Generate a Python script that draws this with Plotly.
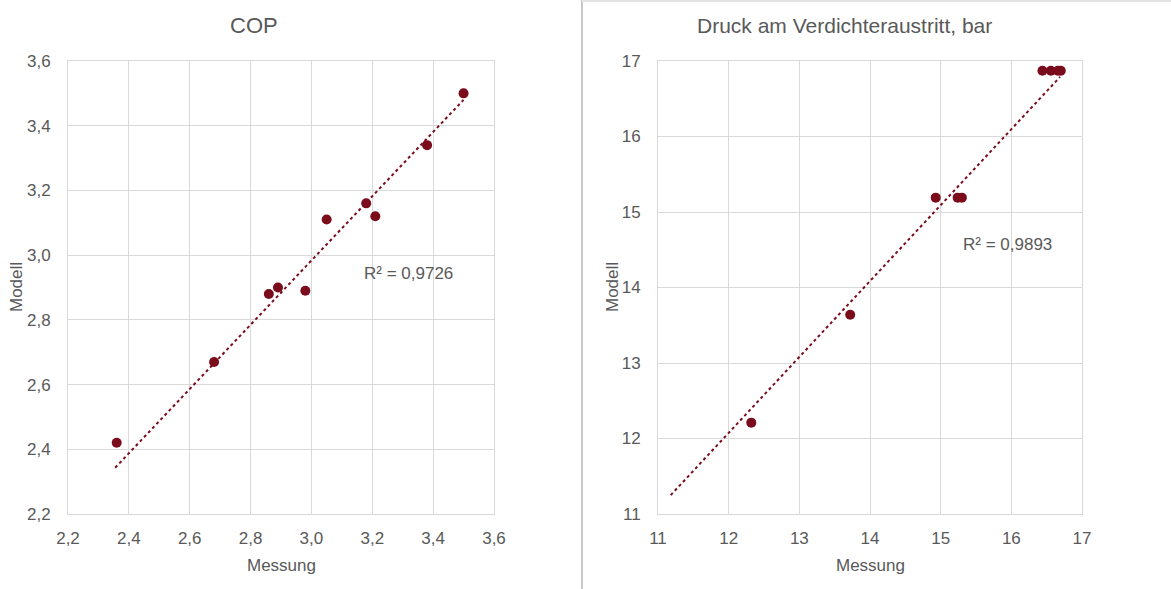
import plotly.graph_objects as go

# ---------------- data ----------------
cop_messung = [2.36, 2.68, 2.86, 2.89, 2.98, 3.05, 3.18, 3.21, 3.38, 3.50]
cop_modell = [2.42, 2.67, 2.88, 2.90, 2.89, 3.11, 3.16, 3.12, 3.34, 3.50]
cop_trend_x = [2.355, 3.50]
cop_trend_y = [2.343, 3.48]
cop_r2_label = "R² = 0,9726"

p_messung = [12.32, 13.72, 14.93, 15.24, 15.30, 16.44, 16.56, 16.66, 16.70]
p_modell = [12.21, 13.64, 15.19, 15.19, 15.19, 16.87, 16.87, 16.87, 16.87]
p_trend_x = [11.18, 16.69]
p_trend_y = [11.25, 16.79]
p_r2_label = "R² = 0,9893"

cop_ticks = [2.2, 2.4, 2.6, 2.8, 3.0, 3.2, 3.4, 3.6]
p_ticks = [11, 12, 13, 14, 15, 16, 17]

titles = ["COP", "Druck am Verdichteraustritt, bar"]
x_title = "Messung"
y_title = "Modell"

# ---------------- style ----------------
W, H = 1171, 589
RED = "#7b0c1c"
TXT = "#595959"
GRID = "#d9d9d9"
FONT = "Liberation Sans, Arial, sans-serif"

fig = go.Figure()

fig.add_trace(go.Scatter(x=cop_trend_x, y=cop_trend_y, mode="lines",
                         line=dict(color=RED, width=2, dash="dot"),
                         xaxis="x", yaxis="y", showlegend=False))
fig.add_trace(go.Scatter(x=cop_messung, y=cop_modell, mode="markers",
                         marker=dict(color=RED, size=10), xaxis="x", yaxis="y",
                         showlegend=False))
fig.add_trace(go.Scatter(x=p_trend_x, y=p_trend_y, mode="lines",
                         line=dict(color=RED, width=2, dash="dot"),
                         xaxis="x2", yaxis="y2", showlegend=False))
fig.add_trace(go.Scatter(x=p_messung, y=p_modell, mode="markers",
                         marker=dict(color=RED, size=10), xaxis="x2", yaxis="y2",
                         showlegend=False))

ydom = [1 - 514 / H, 1 - 61 / H]
common = dict(showgrid=True, gridcolor=GRID, gridwidth=1, zeroline=False,
              showline=True, linecolor=GRID, mirror=True, automargin=False,
              tickfont=dict(family=FONT, size=17, color=TXT),
              ticks="", fixedrange=True)

fig.update_layout(
    template="none",
    width=W, height=H, autosize=False,
    margin=dict(l=0, r=0, t=0, b=0, pad=0),
    paper_bgcolor="white", plot_bgcolor="white",
    separators=",.",
    font=dict(family=FONT, color=TXT),
    xaxis=dict(domain=[68 / W, 494 / W], range=[2.2, 3.6], tickvals=cop_ticks,
               tickformat=".1f", anchor="y", ticklabelstandoff=9, **common),
    yaxis=dict(domain=ydom, range=[2.2, 3.6], tickvals=cop_ticks,
               tickformat=".1f", anchor="x", ticklabelstandoff=13, **common),
    xaxis2=dict(domain=[658 / W, 1082 / W], range=[11, 17], tickvals=p_ticks,
                anchor="y2", ticklabelstandoff=9, **common),
    yaxis2=dict(domain=ydom, range=[11, 17], tickvals=p_ticks,
                anchor="x2", ticklabelstandoff=13, **common),
)

ann = []
def txt(x, y, s, size, angle=0):
    ann.append(dict(x=x / W, y=1 - y / H, xref="paper", yref="paper", text=s,
                    showarrow=False, textangle=angle, xanchor="center",
                    yanchor="middle", font=dict(family=FONT, size=size, color=TXT)))

txt(254, 26, titles[0], 22)
txt(844, 26, titles[1], 21)
txt(281, 565, x_title, 17)
txt(870, 565, x_title, 17)
txt(16, 287, y_title, 17, -90)
txt(612, 287, y_title, 17, -90)
txt(408, 273, cop_r2_label, 17)
txt(1007, 244, p_r2_label, 17)
fig.update_layout(annotations=ann)

fig.add_shape(type="line", xref="paper", yref="paper", x0=582 / W, x1=582 / W,
              y0=0, y1=1, line=dict(color="#c8c8c8", width=2))
fig.add_shape(type="line", xref="paper", yref="paper", x0=582 / W, x1=1,
              y0=1 - 1 / H, y1=1 - 1 / H, line=dict(color="#e3e3e3", width=2))

fig.write_html("out.html", config={"displayModeBar": False},
               post_script="document.body.style.margin='0';"
                           "document.body.style.padding='0';"
                           "document.body.style.overflow='hidden';")
